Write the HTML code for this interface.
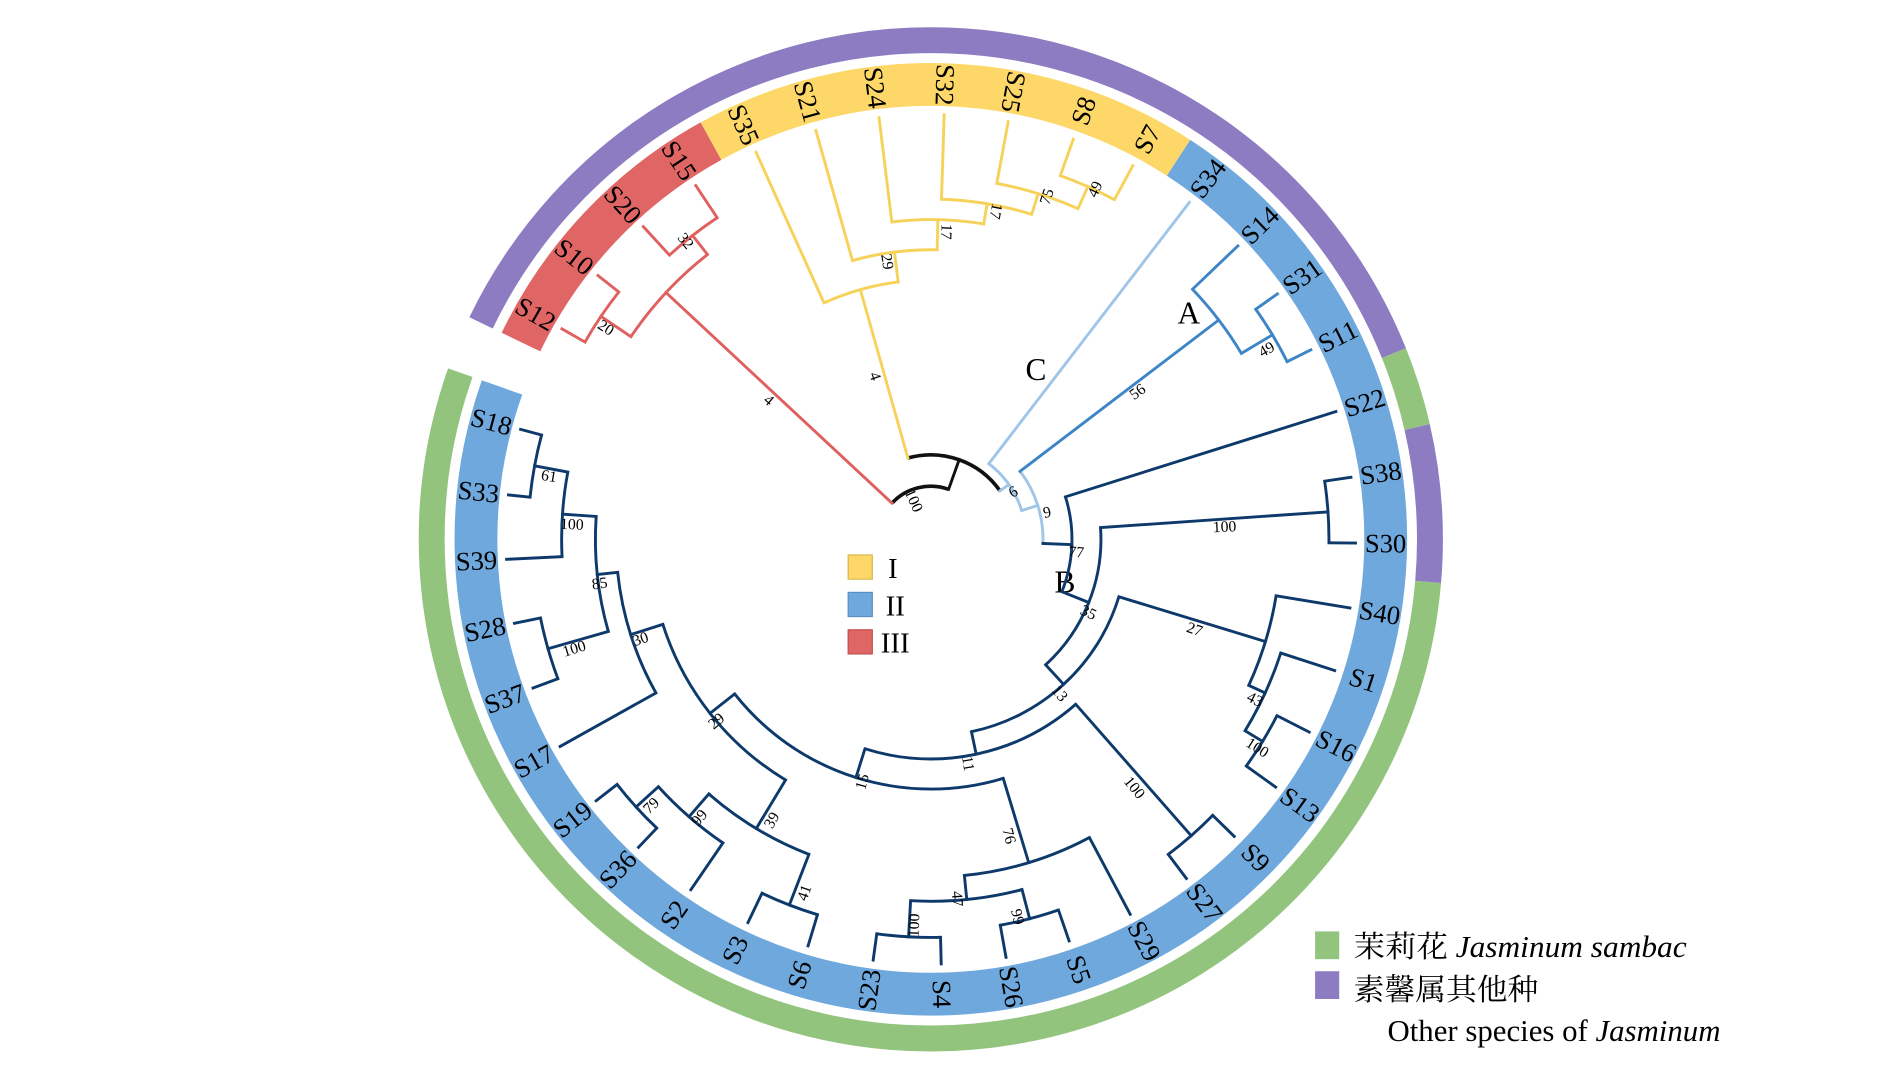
<!DOCTYPE html>
<html><head><meta charset="utf-8"><style>
html,body{margin:0;padding:0;background:#fff;}
svg{display:block;}
text{font-family:"Liberation Serif","Noto Serif CJK SC","Noto Sans CJK SC",serif;}
</style></head><body>
<svg id="s" xmlns="http://www.w3.org/2000/svg" width="1890" height="1083" viewBox="0 0 1890 1083">
<rect width="1890" height="1083" fill="#fff"/>
<g id="g" transform="scale(1.2065)">
<rect x="703" y="460" width="20" height="20" fill="#fdd868" stroke="#d9b74a" stroke-width="1"/>
<text x="736" y="479" font-size="24">I</text>
<rect x="703" y="491" width="20" height="20" fill="#6fa8dc" stroke="#5b8fc0" stroke-width="1"/>
<text x="734" y="510" font-size="24">II</text>
<rect x="703" y="522" width="20" height="20" fill="#e06666" stroke="#c05050" stroke-width="1"/>
<text x="730" y="541" font-size="24">III</text>
<text x="976" y="268" font-size="26">A</text>
<text x="874" y="491" font-size="26">B</text>
<text x="850" y="315" font-size="26">C</text>
<rect x="1090" y="772" width="20" height="23" fill="#93c47d"/>
<text x="1122" y="793" font-size="25" textLength="276" lengthAdjust="spacingAndGlyphs">茉莉花 <tspan font-style="italic">Jasminum sambac</tspan></text>
<rect x="1090" y="805" width="20" height="23" fill="#8e7cc3"/>
<text x="1122" y="829" font-size="25" textLength="153" lengthAdjust="spacingAndGlyphs">素馨属其他种</text>
<text x="1150" y="863" font-size="25" textLength="276" lengthAdjust="spacingAndGlyphs">Other species of <tspan font-style="italic">Jasminum</tspan></text>
</g>
</svg>
<script>
(function(){
var NS="http://www.w3.org/2000/svg";
var g=document.getElementById("g");
var C=[771.5,447];
function P(r,a){var t=a*Math.PI/180;return [C[0]+r*Math.cos(t),C[1]-r*Math.sin(t)];}
function add(tag,attrs,txt){var e=document.createElementNS(NS,tag);for(var k in attrs)e.setAttribute(k,attrs[k]);if(txt!==undefined)e.textContent=txt;g.appendChild(e);return e;}
function arcD(r,a1,a2){var p=P(r,a1),q=P(r,a2);var large=Math.abs(a1-a2)>180?1:0;var sweep=a1>a2?1:0;
return "M"+p[0].toFixed(2)+","+p[1].toFixed(2)+" A"+r+","+r+" 0 "+large+" "+sweep+" "+q[0].toFixed(2)+","+q[1].toFixed(2);}
function band(r,w,a1,a2,col){add("path",{d:arcD(r,a1,a2),stroke:col,"stroke-width":w,fill:"none"});}
band(377,35.5,154.3,118.9,"#e06666");
band(377,35.5,118.9,57,"#fdd868");
band(377,35.5,57,-199.5,"#6fa8dc");
band(413.7,21.5,154.3,21.9,"#8e7cc3");
band(413.7,21.5,21.9,13,"#93c47d");
band(413.7,21.5,13,-4.9,"#8e7cc3");
band(413.7,21.5,-4.9,-199.5,"#93c47d");
var A={S12:150.3,S10:141.6,S20:132.6,S15:123.6,S35:114.3,S21:105.7,S24:97,S32:88.2,S25:79.5,S8:70.4,S7:61.6,S34:52.5,S14:43.7,S31:35.3,S11:26.5,S22:17.5,S38:8.4,S30:-0.5,S40:-9.3,S1:-18,S16:-27,S13:-35.7,S9:-44.4,S27:-53,S29:-62,S5:-71,S26:-79.8,S4:-88.6,S23:-97.8,S6:-106.8,S3:-115.5,S2:-124.4,S36:-133.5,S19:-142,S17:-150.8,S37:-159.5,S28:-168.6,S39:-177.3,S33:-186,S18:-195};
var LEAF=352;
function N(r,c,col){return {r:r,c:c,col:col};}
var NAVY="#0d3a6b",LB="#9fc5e8",MB="#3d85c6",YE="#f7d25a",RE="#e06060",BK="#111";
var red=N(300,[N(330,["S12","S10"]),N(320,["S20","S15"])],RE);
var yel=N(215,["S35",N(240,["S21",N(265,["S24",N(282,["S32",N(300,["S25",N(320,["S8","S7"])])])])])],YE);
var Aclade=N(300,["S14",N(330,["S31","S11"])],MB);
var n47=N(300,[N(330,["S4","S23"]),N(325,["S5","S26"])]);
var clade35=N(141,[N(330,["S38","S30"]),N(163,[N(290,["S40",N(305,["S1",N(322,["S16","S13"])])]),N(182,[N(327,["S9","S27"]),N(207,[N(280,["S29",n47]),N(233,[N(280,[N(305,[N(330,["S19","S36"]),"S2"]),N(325,["S3","S6"])]),N(261,["S17",N(278,[N(330,["S28","S37"]),N(306,[N(334,["S18","S33"]),"S39"])])])])])])])],NAVY);
var b77=N(117,["S22",clade35],NAVY);
var b9=N(93,[Aclade,b77],LB);
var b6=N(79,["S34",b9],LB);
var X=N(70,[yel,b6],BK);
var root=N(44,[red,X],BK);
function ang(n){if(typeof n==="string")return A[n];var s=0;for(var i=0;i<n.c.length;i++)s+=ang(n.c[i]);return s/n.c.length;}
function draw(n,pr,col){var c=(typeof n!=="string"&&n.col)?n.col:col;var a=ang(n);var r=typeof n==="string"?LEAF:n.r;
 var p=P(pr,a),q=P(r,a);
 if(pr>0)add("line",{x1:p[0],y1:p[1],x2:q[0],y2:q[1],stroke:c,"stroke-width":2.4,"stroke-linecap":"square"});
 if(typeof n!=="string"){var a1=ang(n.c[0]),a2=ang(n.c[n.c.length-1]);
  var ac=(n===root||n===X)?BK:c;
  add("path",{d:arcD(r,a1,a2),stroke:ac,"stroke-width":(ac===BK?3:2.4),fill:"none"});
  for(var i=0;i<n.c.length;i++)draw(n.c[i],r,c);}
}
draw(root,0,BK);
function rot(a){var b=a;while(b<-90)b+=360;while(b>=270)b-=360;return (b>75&&b<270)?180-b:-b;}
for(var k in A){var a=A[k],p=P(377,a);
 add("text",{x:p[0],y:p[1],"font-size":22,"text-anchor":"middle","dominant-baseline":"central",transform:"rotate("+rot(a).toFixed(1)+" "+p[0].toFixed(1)+" "+p[1].toFixed(1)+")"},k);}
var L=[["4",637,332],["20",502,272],["32",568,200],["4",725,312],["29",735,217],["17",784,192],["17",825,175],["75",868,163],["49",908,157],["6",840,408],["9",868,425],["56",943,325],["49",1050,290],["77",892,458],["35",902,508],["100",1015,437],["27",990,522],["43",1040,580],["100",1042,620],["13",878,575],["11",802,633],["100",940,653],["15",715,648],["76",836,693],["47",793,745],["100",758,767],["99",843,760],["29",594,598],["39",640,680],["41",667,740],["99",580,678],["79",540,668],["30",531,530],["85",497,484],["100",474,435],["61",455,395],["100",476,538],["100",757,415]];
for(var i=0;i<L.length;i++){var l=L[i];var a=Math.atan2(C[1]-l[2],l[1]-C[0])*180/Math.PI;
 add("text",{x:l[1],y:l[2],"font-size":13,"text-anchor":"middle","dominant-baseline":"central",transform:"rotate("+rot(a).toFixed(1)+" "+l[1]+" "+l[2]+")"},l[0]);}
})();
</script>
</body></html>
